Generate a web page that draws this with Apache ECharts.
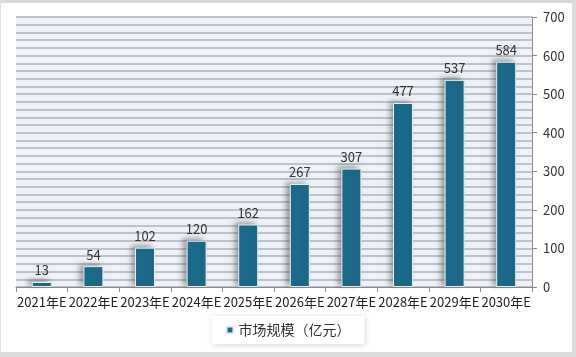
<!DOCTYPE html>
<html><head><meta charset="utf-8">
<script src="https://cdn.jsdelivr.net/npm/echarts@6/dist/echarts.min.js"></script>
<style>
html,body{margin:0;padding:0;background:#fff;}
#frame{position:absolute;left:0;top:0;width:576px;height:357px;box-sizing:border-box;border-top:3px solid #d9d9d9;border-left:1px solid #e2e2e2;border-right:4px solid #dcdcdc;border-bottom:5px solid #dcdcdc;}
#chart{position:absolute;left:0;top:0;width:576px;height:357px;}
</style></head>
<body><div id="frame"></div><div id="chart"></div>
<script>
var categories = ['2021年E','2022年E','2023年E','2024年E','2025年E','2026年E','2027年E','2028年E','2029年E','2030年E'];
var marketSize = [13,54,102,120,162,267,307,477,537,584];
var seriesName = '市场规模（亿元）';
var yTicks = [0,100,200,300,400,500,600,700];

var chart = echarts.init(document.getElementById('chart'), null, {renderer:'canvas'});
var font = '"Noto Sans CJK SC","Noto Sans",sans-serif';
chart.setOption({
  animation:false,
  textStyle:{fontFamily:font},
  grid:{left:16,right:44,top:17,bottom:70,show:true,backgroundColor:'#eef2f7',borderWidth:0},
  legend:{
    data:[seriesName],bottom:13,left:'center',
    icon:'rect',itemWidth:7,itemHeight:7,itemGap:6,
    textStyle:{fontSize:14,color:'#333',fontFamily:font},
    backgroundColor:'#fff',padding:[7,14,7,14],
    shadowColor:'rgba(0,0,0,0.18)',shadowBlur:6,shadowOffsetX:1,shadowOffsetY:1
  },
  xAxis:{
    type:'category',data:categories,
    axisLine:{show:true,lineStyle:{color:'#8a8a8a',width:1}},
    axisTick:{show:true,alignWithLabel:false,length:5,lineStyle:{color:'#8a8a8a'}},
    axisLabel:{fontSize:13,color:'#222',margin:9,interval:0,fontFamily:font},
    splitLine:{show:false}
  },
  yAxis:{
    type:'value',position:'right',min:yTicks[0],max:yTicks[yTicks.length-1],interval:100,
    axisLine:{show:true,lineStyle:{color:'#8a8a8a'}},
    axisTick:{show:true,inside:false,length:5,lineStyle:{color:'#8a8a8a'}},
    axisLabel:{fontSize:13,color:'#333',margin:11,fontFamily:font},
    splitLine:{show:true,lineStyle:{color:'#aab3bd',width:1.5}},
    minorTick:{show:false,splitNumber:5},
    minorSplitLine:{show:true,lineStyle:{color:'#aab3bd',width:1.5}}
  },
  series:[{
    name:seriesName,type:'bar',data:marketSize,barWidth:20,
    itemStyle:{color:'#1c6a8b',borderColor:'#e8eef3',borderWidth:1,
      shadowColor:'rgba(60,60,60,0.45)',shadowBlur:5,shadowOffsetX:-4,shadowOffsetY:-2},
    label:{show:true,position:'top',distance:5,fontSize:13,color:'#333',fontFamily:font}
  }]
});
</script></body></html>
